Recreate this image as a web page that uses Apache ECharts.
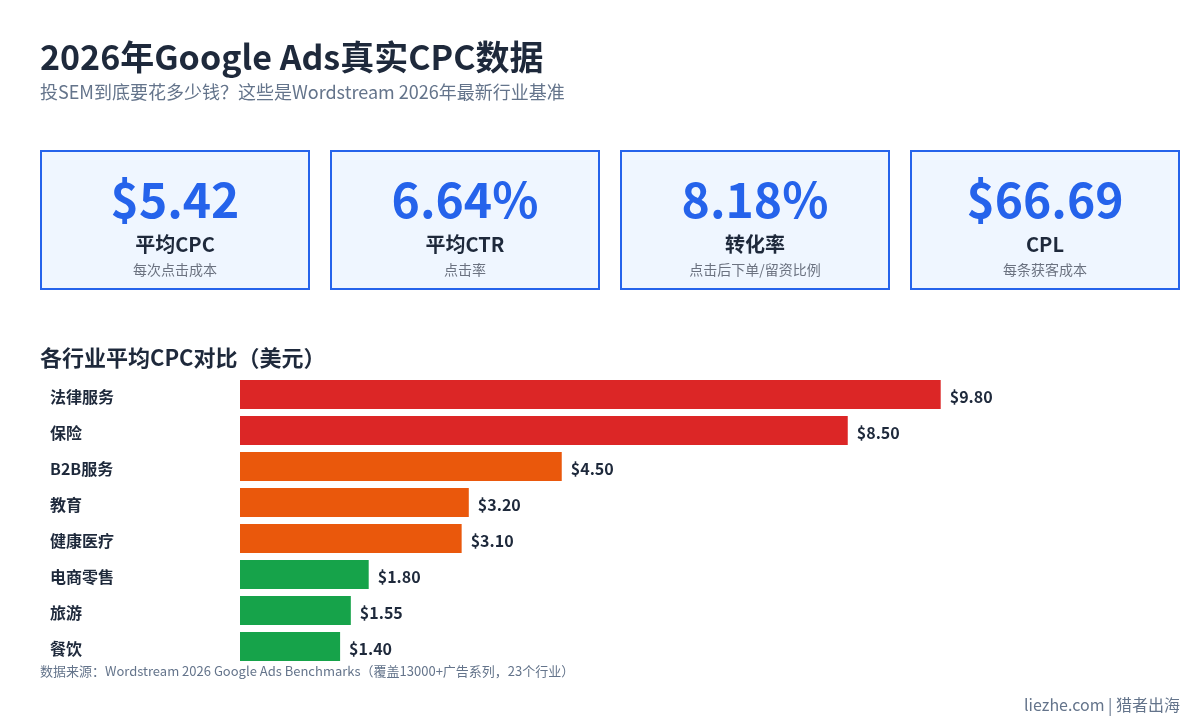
<!DOCTYPE html>
<html>
<head>
<meta charset="utf-8">
<script src="https://cdn.jsdelivr.net/npm/echarts@6/dist/echarts.min.js"></script>
<style>
html,body{margin:0;padding:0;background:#ffffff;}
#chart{width:1200px;height:720px;}
</style>
</head>
<body>
<div id="chart"></div>
<script>
const titleText = '2026年Google Ads真实CPC数据';
const subtitleText = '投SEM到底要花多少钱？这些是Wordstream 2026年最新行业基准';
const sectionTitle = '各行业平均CPC对比（美元）';
const sourceText = '数据来源：Wordstream 2026 Google Ads Benchmarks（覆盖13000+广告系列，23个行业）';
const brandText = 'liezhe.com | 猎者出海';

const kpiValues = ['$5.42', '6.64%', '8.18%', '$66.69'];
const kpiLabels = ['平均CPC', '平均CTR', '转化率', 'CPL'];
const kpiNotes = ['每次点击成本', '点击率', '点击后下单/留资比例', '每条获客成本'];

const industries = ['法律服务', '保险', 'B2B服务', '教育', '健康医疗', '电商零售', '旅游', '餐饮'];
const cpcValues = [9.80, 8.50, 4.50, 3.20, 3.10, 1.80, 1.55, 1.40];
const tierColors = ['#dc2626', '#dc2626', '#ea580c', '#ea580c', '#ea580c', '#16a34a', '#16a34a', '#16a34a'];

const FONT = '"Noto Sans CJK SC", "Noto Sans", sans-serif';
const chart = echarts.init(document.getElementById('chart'));

const graphics = [];
graphics.push({type:'text', x:40, y:57, style:{text:titleText, font:'bold 34px ' + FONT, fill:'#1e293b', textVerticalAlign:'middle'}});
graphics.push({type:'text', x:40, y:92, style:{text:subtitleText, font:'18px ' + FONT, fill:'#64748b', textVerticalAlign:'middle'}});

const cardW = 270, cardGap = 20, cardX0 = 40, cardY = 150, cardH = 140;
kpiValues.forEach((v, i) => {
  const x = cardX0 + i * (cardW + cardGap);
  const cx = x + cardW / 2;
  graphics.push({type:'rect', shape:{x:x + 1, y:cardY + 1, width:cardW - 2, height:cardH - 2},
    style:{fill:'#eff6ff', stroke:'#2563eb', lineWidth:2}});
  graphics.push({type:'text', x:cx, y:200, style:{text:v, font:'bold 48px ' + FONT, fill:'#2563eb', textAlign:'center', textVerticalAlign:'middle'}});
  graphics.push({type:'text', x:cx, y:244, style:{text:kpiLabels[i], font:'bold 20px ' + FONT, fill:'#1e293b', textAlign:'center', textVerticalAlign:'middle'}});
  graphics.push({type:'text', x:cx, y:270, style:{text:kpiNotes[i], font:'14px ' + FONT, fill:'#6b7280', textAlign:'center', textVerticalAlign:'middle'}});
});

graphics.push({type:'text', x:40, y:358, style:{text:sectionTitle, font:'bold 22px ' + FONT, fill:'#1e293b', textVerticalAlign:'middle'}});
graphics.push({type:'text', x:40, y:671, style:{text:sourceText, font:'13px ' + FONT, fill:'#64748b', textVerticalAlign:'middle'}});
graphics.push({type:'text', x:1180, y:705, style:{text:brandText, font:'16px ' + FONT, fill:'#64748b', textAlign:'right', textVerticalAlign:'middle'}});

chart.setOption({
  backgroundColor:'#ffffff',
  animation:false,
  textStyle:{fontFamily:FONT},
  grid:{left:240, width:715, top:376.5, height:288, containLabel:false},
  xAxis:{type:'value', min:0, max:10, show:false},
  yAxis:{
    type:'category', data:industries, inverse:true,
    axisLine:{show:false}, axisTick:{show:false}, splitLine:{show:false},
    axisLabel:{align:'left', margin:190, fontFamily:FONT,
      formatter:v => '{a|' + v + '}',
      rich:{a:{fontSize:16, fontWeight:'bold', color:'#1e293b', fontFamily:FONT, padding:[4, 0, 0, 0]}}}
  },
  series:[{
    type:'bar',
    data:cpcValues.map((v, i) => ({value:v, itemStyle:{color:tierColors[i]}})),
    barWidth:29,
    label:{show:true, position:'right', distance:9, offset:[0, 2], fontSize:16, fontWeight:'bold', color:'#1e293b', fontFamily:FONT,
      formatter:p => '$' + p.value.toFixed(2)}
  }],
  graphic:graphics
});
</script>
</body>
</html>
